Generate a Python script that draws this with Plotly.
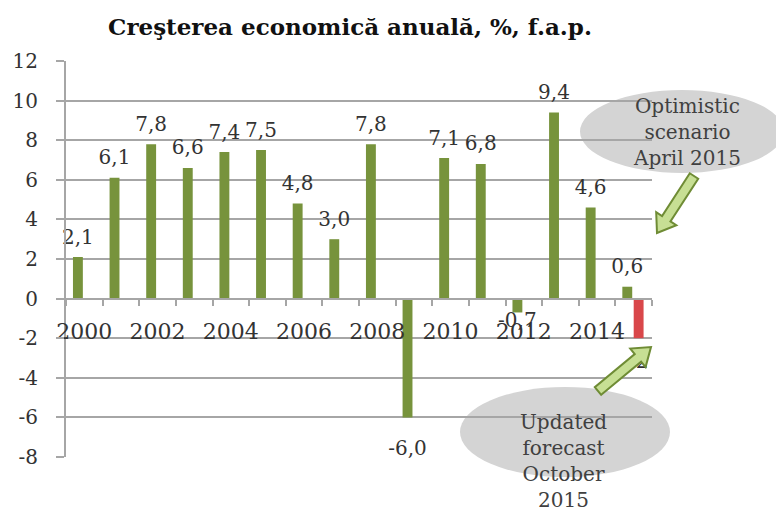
import numpy as np
import plotly.graph_objects as go

# ---- data ----
years = [2000, 2001, 2002, 2003, 2004, 2005, 2006, 2007, 2008, 2009,
         2010, 2011, 2012, 2013, 2014, 2015]
growth = [2.1, 6.1, 7.8, 6.6, 7.4, 7.5, 4.8, 3.0, 7.8, -6.0,
          7.1, 6.8, -0.7, 9.4, 4.6, 0.6]
forecast_years = [2015]
forecast = [-2]
tick_years = [2000, 2002, 2004, 2006, 2008, 2010, 2012, 2014]
tick_text = [str(y) for y in tick_years]
y_ticks = [-8, -6, -4, -2, 0, 2, 4, 6, 8, 10, 12]
y_tick_text = [str(v) for v in y_ticks]
title_text = "Creşterea economică anuală, %, f.a.p."
note_top = "Optimistic<br>scenario<br>April 2015"
note_bottom = "Updated<br>forecast<br>October<br>2015"

# ---- style ----
W, H = 784, 510
OFF = 8  # page body margin
PX0, PX1, PY0, PY1 = 66, 652, 61, 457
L, T = PX0 - OFF, PY0 - OFF
R = W + OFF - PX1
B = H + OFF - PY1
GREEN = "#77933c"
RED = "#d9474a"
GRID = "#a6a6a6"
TXT = "#333333"
SERIF = "DejaVu Serif"
G_OFF, G_W = -0.31, 0.27
R_OFF, R_W = 0.0, 0.27
YMIN, YMAX = -8, 12

pw, ph = PX1 - PX0, PY1 - PY0


def px2paper(x, y):
    return (x - PX0) / pw, (PY1 - y) / ph


def fmt(v):
    return f"{v:.1f}".replace(".", ",")


def label_gap(v):
    if v >= 0:
        return 12
    return 34 if v < -1 else 0


fig = go.Figure()
fig.add_bar(x=years, y=growth, width=G_W, offset=G_OFF,
            marker=dict(color=GREEN, line=dict(width=0)), hoverinfo="skip")
fig.add_bar(x=forecast_years, y=forecast, width=R_W, offset=R_OFF,
            marker=dict(color=RED, line=dict(width=0)), hoverinfo="skip")

gx = np.array(years) + G_OFF + G_W / 2
fig.add_scatter(x=gx, y=growth, mode="markers+text",
                text=[fmt(v) for v in growth],
                textposition=["top center" if v >= 0 else "bottom center" for v in growth],
                marker=dict(size=[label_gap(v) for v in growth], opacity=0,
                            color="white", line=dict(width=0)),
                textfont=dict(family=SERIF, size=20, color=TXT),
                cliponaxis=False, hoverinfo="skip")
rx = np.array(forecast_years) + R_OFF + R_W / 2
fig.add_scatter(x=rx, y=forecast, mode="markers+text",
                text=[str(v) for v in forecast],
                textposition="bottom center",
                marker=dict(size=22, opacity=0, color="white", line=dict(width=0)),
                textfont=dict(family=SERIF, size=20, color=TXT),
                cliponaxis=False, hoverinfo="skip")

shapes = []
for (x0, y0, x1, y1) in [(580, 90, 784, 173), (460, 387, 670, 477)]:
    a0, b0 = px2paper(x0, y1)
    a1, b1 = px2paper(x1, y0)
    shapes.append(dict(type="circle", xref="paper", yref="paper",
                       x0=a0, y0=b0, x1=a1, y1=b1, layer="below",
                       fillcolor="#d4d4d4", line=dict(width=0)))


def block_arrow(tail, tip, shaft=10, head=24, head_len=17):
    t = np.array(tail, float)
    p = np.array(tip, float)
    d = p - t
    u = d / np.hypot(*d)
    n = np.array([-u[1], u[0]])
    base = p - u * head_len
    pts = [t + n * shaft / 2, base + n * shaft / 2, base + n * head / 2, p,
           base - n * head / 2, base - n * shaft / 2, t - n * shaft / 2]
    pp = [px2paper(*q) for q in pts]
    return "M " + " L ".join(f"{a:.5f},{b:.5f}" for a, b in pp) + " Z"


for tail, tip in [((694, 176), (657, 233)), ((598, 391), (651, 347))]:
    shapes.append(dict(type="path", xref="paper", yref="paper",
                       path=block_arrow(tail, tip), layer="above",
                       fillcolor="#c7df94", line=dict(color="#6f8c35", width=2)))

annotations = []
cx, cy = px2paper(687, 132)
annotations.append(dict(x=cx, y=cy, xref="paper", yref="paper", text=note_top,
                        showarrow=False, xanchor="center", yanchor="middle",
                        font=dict(family=SERIF, size=20, color="#404040")))
cx, cy = px2paper(563, 461)
annotations.append(dict(x=cx, y=cy, xref="paper", yref="paper", text=note_bottom,
                        showarrow=False, xanchor="center", yanchor="middle",
                        font=dict(family=SERIF, size=20, color="#404040")))

fig.update_layout(
    width=W, height=H,
    margin=dict(l=L, r=R, t=T, b=B, autoexpand=False),
    paper_bgcolor="white", plot_bgcolor="rgba(0,0,0,0)",
    showlegend=False,
    title=dict(text=f"<b>{title_text}</b>", x=(350 - OFF) / W, xanchor="center",
               y=1 - (27 - OFF) / H, yanchor="middle", yref="container",
               font=dict(family=SERIF, size=23, color="#111111")),
    shapes=shapes, annotations=annotations,
    xaxis=dict(type="linear", range=[1999.5, 2015.5],
               tickvals=tick_years, ticktext=tick_text,
               ticks="", showgrid=False, zeroline=False,
               showline=True, linecolor=GRID, linewidth=2,
               anchor="free", position=(0 - YMIN) / (YMAX - YMIN),
               minor=dict(tick0=1999.5, dtick=1, ticks="outside", ticklen=6,
                          tickcolor=GRID, tickwidth=1.5, showgrid=False),
               tickfont=dict(family=SERIF, size=22, color=TXT),
               ticklabelstandoff=13),
    yaxis=dict(range=[YMIN, YMAX], tickvals=y_ticks, ticktext=y_tick_text,
               showgrid=True, gridcolor=GRID, gridwidth=1.5,
               zeroline=False, showline=True, linecolor=GRID, linewidth=2,
               ticks="outside", ticklen=8, tickcolor=GRID, tickwidth=1.5,
               tickfont=dict(family=SERIF, size=20, color=TXT),
               ticklabelstandoff=14),
)

fig.write_html("out.html")
